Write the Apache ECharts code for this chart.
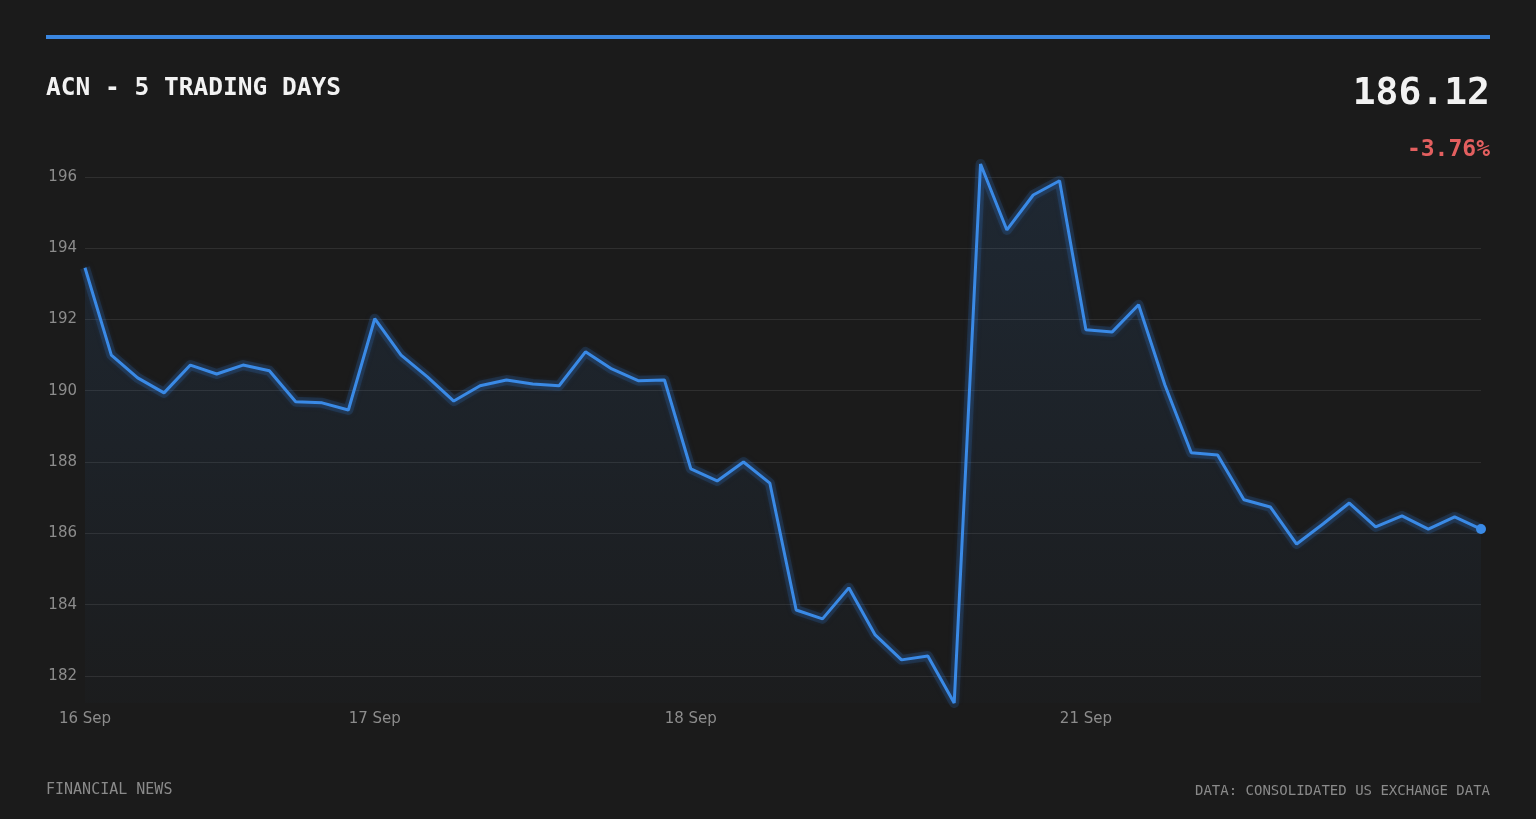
<!DOCTYPE html>
<html>
<head>
<meta charset="utf-8">
<script src="https://cdn.jsdelivr.net/npm/echarts@6/dist/echarts.min.js"></script>
<style>
  html, body { margin: 0; padding: 0; background: #1b1b1b; }
  #main { width: 1536px; height: 819px; }
</style>
</head>
<body>
<div id="main"></div>
<script>
// one category per sample, labelled by trading day
const days = [
  "16 Sep", "16 Sep", "16 Sep", "16 Sep", "16 Sep", "16 Sep", "16 Sep", "16 Sep", "16 Sep", "16 Sep", "16 Sep",
  "17 Sep", "17 Sep", "17 Sep", "17 Sep", "17 Sep", "17 Sep", "17 Sep", "17 Sep", "17 Sep", "17 Sep", "17 Sep", "17 Sep",
  "18 Sep", "18 Sep", "18 Sep", "18 Sep", "18 Sep", "18 Sep", "18 Sep", "18 Sep", "18 Sep", "18 Sep", "18 Sep", "18 Sep", "18 Sep", "18 Sep", "18 Sep",
  "21 Sep", "21 Sep", "21 Sep", "21 Sep", "21 Sep", "21 Sep", "21 Sep", "21 Sep", "21 Sep", "21 Sep", "21 Sep", "21 Sep", "21 Sep", "21 Sep", "21 Sep", "21 Sep"
];

// price samples
const prices = [
  193.45, 191.0, 190.36, 189.94, 190.72, 190.47, 190.72, 190.56, 189.69, 189.66, 189.46,
  192.02, 191.0, 190.39, 189.71, 190.14, 190.30, 190.19, 190.14, 191.09, 190.61, 190.28, 190.30,
  187.81, 187.47, 188.0, 187.41, 183.85, 183.60, 184.47, 183.15, 182.45, 182.56, 181.24, 196.36, 194.51, 195.49, 195.89,
  191.71, 191.65, 192.41, 190.16, 188.26, 188.2, 186.94, 186.74, 185.70, 186.26, 186.85, 186.18, 186.49, 186.12, 186.46, 186.12
];

const ticker = "ACN";
const lastPrice = "186.12";
const changePct = "-3.76%";

const chart = echarts.init(document.getElementById("main"));

// only the last sample gets a dot
const seriesData = prices.map((v, i) =>
  i === prices.length - 1
    ? { value: v, symbol: "circle", symbolSize: 10 }
    : { value: v, symbol: "none" }
);

const mono = "'DejaVu Sans Mono', monospace";

const option = {
  backgroundColor: "#1b1b1b",
  animation: false,
  grid: { left: 85, right: 55, top: 164, bottom: 116 },
  xAxis: {
    type: "category",
    data: days,
    boundaryGap: false,
    axisLine: { show: false },
    axisTick: { show: false },
    axisLabel: {
      color: "#8c8c8c",
      fontFamily: "DejaVu Sans",
      fontSize: 15,
      margin: 9,
      interval: (i) => i === 0 || days[i] !== days[i - 1]
    },
    splitLine: { show: false }
  },
  yAxis: {
    type: "value",
    min: "dataMin",
    max: "dataMax",
    splitNumber: 7,
    minInterval: 2,
    maxInterval: 2,
    axisLine: { show: false },
    axisTick: { show: false },
    axisLabel: {
      color: "#8c8c8c",
      fontFamily: "DejaVu Sans",
      fontSize: 15,
      margin: 8,
      showMinLabel: false,
      showMaxLabel: false
    },
    splitLine: {
      show: true,
      showMinLine: false,
      showMaxLine: false,
      lineStyle: { color: "#2f2f2f", width: 1 }
    }
  },
  series: [
    {
      // soft halo under the price line
      type: "line",
      data: prices,
      symbol: "none",
      silent: true,
      lineStyle: { color: "rgba(58, 138, 230, 0.16)", width: 10, join: "round" },
      z: 1
    },
    {
      type: "line",
      data: seriesData,
      symbol: "none",
      itemStyle: { color: "#3a8ae6" },
      lineStyle: {
        color: "#3a8ae6",
        width: 3,
        shadowColor: "rgba(40, 100, 190, 0.5)",
        shadowBlur: 6
      },
      areaStyle: {
        color: new echarts.graphic.LinearGradient(0, 0, 0, 1, [
          { offset: 0, color: "rgba(58, 138, 230, 0.17)" },
          { offset: 1, color: "rgba(58, 138, 230, 0.02)" }
        ])
      },
      z: 2
    }
  ],
  graphic: [
    { type: "rect", left: 46, top: 35, shape: { width: 1444, height: 4 }, style: { fill: "#3a86e0" } },
    {
      type: "text", left: 46, top: 76,
      style: { text: ticker + " - 5 TRADING DAYS", fill: "#f2f2f2", font: "bold 24.5px " + mono }
    },
    {
      type: "text", right: 46, top: 75,
      style: { text: lastPrice, fill: "#f2f2f2", font: "bold 38px " + mono, textAlign: "right" }
    },
    {
      type: "text", right: 46, top: 139,
      style: { text: changePct, fill: "#e35f5f", font: "bold 23px " + mono, textAlign: "right" }
    },
    {
      type: "text", left: 46, top: 783,
      style: { text: "FINANCIAL NEWS", fill: "#8a8a8a", font: "15px " + mono }
    },
    {
      type: "text", right: 46, top: 784,
      style: { text: "DATA: CONSOLIDATED US EXCHANGE DATA", fill: "#8a8a8a", font: "14px " + mono, textAlign: "right" }
    }
  ]
};

chart.setOption(option);
</script>
</body>
</html>
